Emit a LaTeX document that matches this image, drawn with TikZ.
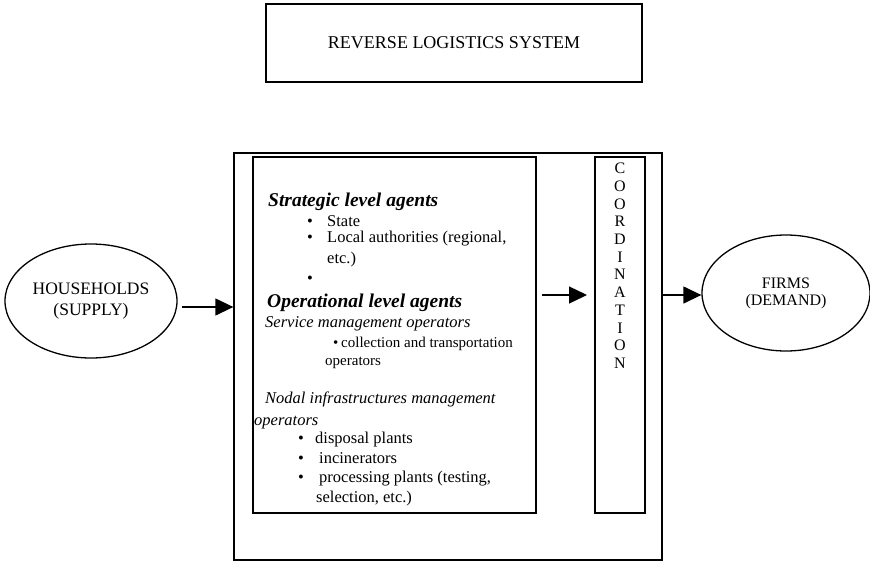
\documentclass[tikz,border=0pt]{standalone}
\usepackage{fontspec}
\setmainfont{Liberation Serif}
\usetikzlibrary{arrows.meta,shapes.geometric}
\begin{document}
\begin{tikzpicture}[x=1pt,y=-1pt,
  box/.style={draw, line width=1.3pt, inner sep=0pt},
  oval/.style={draw, ellipse, line width=1.3pt, inner sep=0pt},
  arr/.style={-{Triangle[length=18pt,width=17pt]}, line width=1.3pt},
  body/.style={anchor=base west, inner sep=0pt, font=\fontsize{16.5}{18}\selectfont},
  small/.style={anchor=base west, inner sep=0pt, font=\fontsize{15}{17}\selectfont},
  head/.style={anchor=base west, inner sep=0pt, font=\fontsize{19.5}{22}\selectfont\bfseries\itshape},
  sub/.style={anchor=base west, inner sep=0pt, font=\fontsize{16.5}{18}\selectfont\itshape}]
\useasboundingbox (0,0) rectangle (870,562);

% title
\node[box, minimum width=376pt, minimum height=78pt, font=\fontsize{18}{20}\selectfont] (title) at (454,43) {REVERSE LOGISTICS SYSTEM};

% big boxes
\node[box, minimum width=428pt, minimum height=407pt] (outer) at (448,356.5) {};
\node[box, minimum width=283pt, minimum height=356pt] (inner) at (394.5,335) {};
\node[box, minimum width=50pt, minimum height=356pt] (coord) at (620,335) {};

% ellipses
\node[oval, minimum width=172pt, minimum height=114pt, align=center, font=\fontsize{17.5}{21}\selectfont] (hh) at (91,301) {HOUSEHOLDS\\(SUPPLY)};
\node[oval, minimum width=168pt, minimum height=116pt, align=center, font=\fontsize{16}{17}\selectfont] (firms) at (786,293) {FIRMS\\(DEMAND)};

% coordination letters
\node[anchor=north, inner sep=0pt, align=center, font=\fontsize{16}{17.7}\selectfont] (coordtxt) at (620,163)
  {C\\O\\O\\R\\D\\I\\N\\A\\T\\I\\O\\N};

% inner text
\node[head] (t1) at (268,206) {Strategic level agents};
\node[body] (b1) at (307,226) {\textbullet};
\node[body] (t2) at (327,226) {State};
\node[body] (b2) at (307,242) {\textbullet};
\node[body] (t3) at (327,242) {Local authorities (regional,};
\node[body] (t4) at (327,263) {etc.)};
\node[body] (b3) at (307,283) {\textbullet};
\node[head] (t5) at (267,307) {Operational level agents};
\node[sub] (t6) at (265,327) {Service management operators};
\node[small] (b4) at (333,347) {\textbullet};
\node[small] (t7) at (341,347) {collection and transportation};
\node[small] (t8) at (325,365) {operators};
\node[sub] (t9) at (265,403) {Nodal infrastructures management};
\node[sub] (t10) at (254,425) {operators};
\node[body] (b5) at (298,443) {\textbullet};
\node[body] (t11) at (315,443) {disposal plants};
\node[body] (b6) at (298,463) {\textbullet};
\node[body] (t12) at (319,463) {incinerators};
\node[body] (b7) at (298,482) {\textbullet};
\node[body] (t13) at (319,482) {processing plants (testing,};
\node[body] (t14) at (316,502) {selection, etc.)};

% arrows
\coordinate (a1) at (182,307);
\draw[arr] (a1) -- (a1 -| outer.west);
\coordinate (a2) at (542,295);
\draw[arr] (a2) -- (587,295);
\draw[arr] (outer.east |- a2) -- (firms.west |- a2);
\end{tikzpicture}
\end{document}
